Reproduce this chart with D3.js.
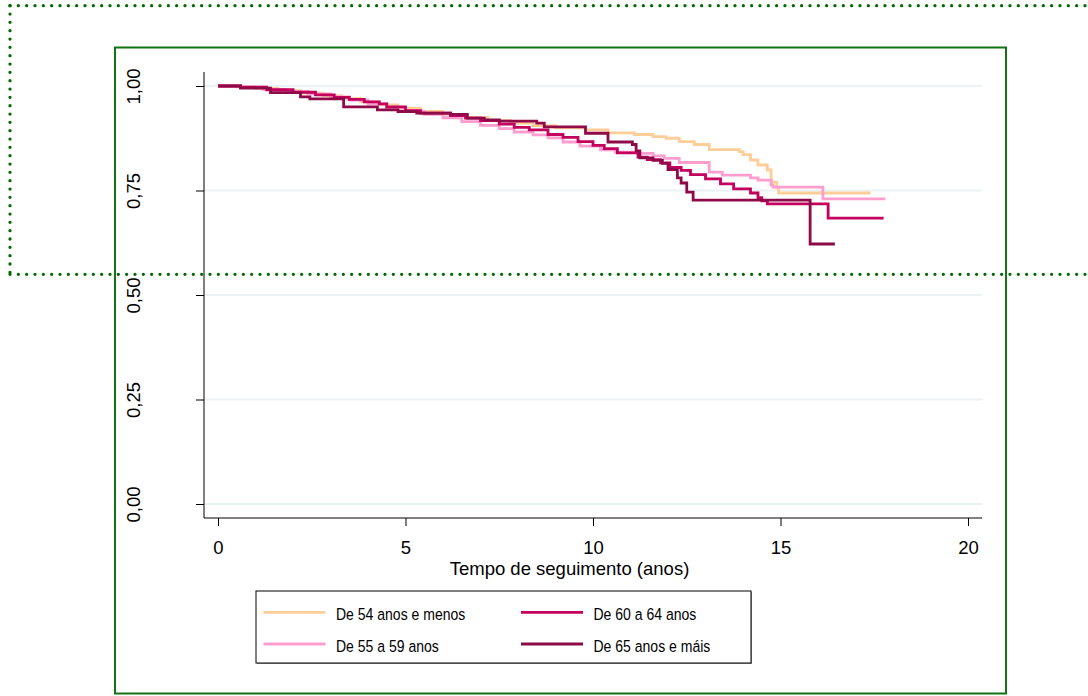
<!DOCTYPE html>
<html>
<head>
<meta charset="utf-8">
<script src="https://cdn.jsdelivr.net/npm/d3@7"></script>
<style>
  html, body { margin: 0; padding: 0; background: #fff; }
  svg { display: block; }
  text { font-family: "Liberation Sans", Arial, sans-serif; fill: #000; }
</style>
</head>
<body>
<svg id="chart" width="1088" height="696"></svg>
<script>
// Kaplan-Meier survival estimates by age group: [years of follow-up, survival]
const kmAte54 = [[0,1.000],[0.5,0.998],[1.0,0.994],[1.6,0.989],[2.2,0.983],[2.8,0.977],[3.3,0.970],[3.8,0.962],[4.3,0.955],[4.8,0.947],[5.4,0.939],[6.0,0.932],[6.6,0.925],[7.2,0.918],[7.8,0.911],[8.4,0.905],[9.0,0.900],[9.8,0.895],[10.4,0.888],[11.1,0.884],[11.6,0.879],[11.95,0.875],[12.3,0.867],[12.7,0.860],[13.1,0.848],[13.9,0.843],[14.0,0.836],[14.2,0.823],[14.4,0.811],[14.65,0.799],[14.75,0.770],[14.9,0.758],[14.95,0.744],[17.4,0.744]];
const kmDe55a59 = [[0,1.000],[0.6,0.997],[1.2,0.992],[1.8,0.987],[2.4,0.981],[3.0,0.974],[3.5,0.966],[4.0,0.957],[4.5,0.947],[5.0,0.940],[5.5,0.932],[6.0,0.924],[6.5,0.915],[7.0,0.906],[7.5,0.898],[7.9,0.890],[8.4,0.883],[8.8,0.876],[9.2,0.866],[9.65,0.856],[10.2,0.847],[10.6,0.842],[11.2,0.839],[11.6,0.833],[11.9,0.827],[12.3,0.817],[13.1,0.794],[13.45,0.787],[14.2,0.780],[14.4,0.775],[14.75,0.763],[14.8,0.758],[16.13,0.730],[17.8,0.730]];
const kmDe60a64 = [[0,1.000],[0.6,0.997],[1.3,0.991],[2.0,0.985],[2.6,0.979],[3.1,0.973],[3.5,0.968],[3.9,0.962],[4.3,0.957],[4.5,0.950],[5.0,0.941],[5.4,0.935],[6.2,0.929],[6.6,0.923],[7.0,0.917],[7.5,0.909],[7.9,0.901],[8.3,0.895],[8.8,0.884],[9.2,0.877],[9.6,0.867],[10.0,0.858],[10.3,0.850],[10.65,0.840],[11.2,0.830],[11.45,0.824],[11.8,0.816],[12.05,0.805],[12.35,0.798],[12.6,0.788],[13.0,0.778],[13.4,0.766],[13.75,0.754],[14.2,0.744],[14.4,0.733],[14.5,0.725],[14.65,0.718],[16.27,0.684],[17.75,0.684]];
const kmDe65 = [[0,1.000],[0.6,0.995],[1.4,0.984],[2.2,0.974],[2.45,0.969],[3.35,0.950],[4.25,0.943],[4.8,0.939],[5.3,0.935],[6.2,0.932],[6.65,0.923],[7.1,0.919],[7.5,0.916],[8.5,0.911],[8.7,0.902],[9.8,0.887],[10.4,0.866],[11.05,0.860],[11.15,0.845],[11.25,0.828],[11.6,0.822],[11.85,0.815],[12.0,0.800],[12.25,0.780],[12.35,0.768],[12.5,0.746],[12.67,0.727],[15.79,0.622],[16.45,0.622]];

const groupLabels = ["De 54 anos e menos", "De 55 a 59 anos", "De 60 a 64 anos", "De 65 anos e máis"];
const groupColors = ["#fecd98", "#ff9dcf", "#c4005e", "#8e0a48"];
const xTicks = [0, 5, 10, 15, 20];
const yTicks = [0, 0.25, 0.5, 0.75, 1];
const yTickLabels = ["0,00", "0,25", "0,50", "0,75", "1,00"];
const xTitle = "Tempo de seguimento (anos)";

const series = [kmAte54, kmDe55a59, kmDe60a64, kmDe65];

const svg = d3.select("#chart");

// outer graph frame
svg.append("rect")
  .attr("x", 115).attr("y", 47.5).attr("width", 891).attr("height", 646)
  .attr("fill", "none").attr("stroke", "#137313").attr("stroke-width", 2);

// plot region
const plot = { left: 204, right: 982, top: 72, bottom: 518 };
const x = d3.scaleLinear().domain([0, 20]).range([218, 968]);
const y = d3.scaleLinear().domain([0, 1]).range([504, 86]);

// horizontal gridlines
svg.append("g").selectAll("line").data(yTicks).join("line")
  .attr("x1", plot.left).attr("x2", plot.right)
  .attr("y1", d => y(d)).attr("y2", d => y(d))
  .attr("stroke", "#eaf2f3").attr("stroke-width", 2);

// y axis
const yAxis = svg.append("g")
  .attr("transform", `translate(${plot.left},0)`)
  .call(d3.axisLeft(y).tickValues(yTicks).tickSize(8).tickFormat((d, i) => yTickLabels[i]));
yAxis.select(".domain").remove();
yAxis.selectAll(".tick line").attr("stroke", "#000");
yAxis.selectAll(".tick text")
  .attr("font-family", "Liberation Sans, Arial, sans-serif")
  .attr("font-size", 18.5)
  .attr("text-anchor", "middle")
  .attr("dominant-baseline", "central")
  .attr("x", null).attr("dy", null)
  .attr("transform", `translate(${133.5 - plot.left},0) rotate(-90)`);
svg.append("line")
  .attr("x1", plot.left).attr("x2", plot.left)
  .attr("y1", plot.top).attr("y2", plot.bottom)
  .attr("stroke", "#000").attr("stroke-width", 1);

// x axis
const xAxis = svg.append("g")
  .attr("transform", `translate(0,${plot.bottom})`)
  .call(d3.axisBottom(x).tickValues(xTicks).tickSize(8).tickFormat(d3.format("d")));
xAxis.select(".domain").remove();
xAxis.selectAll(".tick line").attr("stroke", "#000");
xAxis.selectAll(".tick text")
  .attr("font-family", "Liberation Sans, Arial, sans-serif")
  .attr("font-size", 18.5)
  .attr("y", 36).attr("dy", null);
svg.append("line")
  .attr("x1", plot.left).attr("x2", plot.right)
  .attr("y1", plot.bottom).attr("y2", plot.bottom)
  .attr("stroke", "#000").attr("stroke-width", 1);

svg.append("text")
  .attr("x", 569.5).attr("y", 575)
  .attr("text-anchor", "middle")
  .attr("font-size", 18.5)
  .text(xTitle);

// survival step curves
const line = d3.line()
  .x(d => x(d[0]))
  .y(d => y(d[1]))
  .curve(d3.curveStepAfter);

svg.append("g").selectAll("path").data(series).join("path")
  .attr("d", line)
  .attr("fill", "none")
  .attr("stroke", (d, i) => groupColors[i])
  .attr("stroke-width", 2.8)
  .attr("stroke-linejoin", "miter");

// legend
const legend = svg.append("g");
legend.append("rect")
  .attr("x", 257).attr("y", 592).attr("width", 495).attr("height", 72)
  .attr("fill", "#9a9a9a");
legend.append("rect")
  .attr("x", 256).attr("y", 591).attr("width", 495).attr("height", 72)
  .attr("fill", "#fff").attr("stroke", "#000").attr("stroke-width", 1);

const colX = [263.5, 521];
const rowY = [612.3, 644];
const items = legend.selectAll("g.item").data(groupLabels).join("g")
  .attr("class", "item")
  .attr("transform", (d, i) => `translate(${colX[Math.floor(i / 2)]},${rowY[i % 2]})`);
items.append("line")
  .attr("x1", 0).attr("x2", 62)
  .attr("stroke", (d, i) => groupColors[i])
  .attr("stroke-width", 2.8);
// legend labels use a condensed rendering of the sans face
items.append("text")
  .attr("transform", "translate(72.5,7.8) scale(0.85,1)")
  .attr("font-family", "Liberation Sans, Arial, sans-serif")
  .attr("font-size", 16.5)
  .text(d => d);

// dotted outline
const dotted = svg.append("g")
  .attr("fill", "none")
  .attr("stroke", "#006a00")
  .attr("stroke-width", 3.3)
  .attr("stroke-linecap", "round")
  .attr("stroke-dasharray", "0 8.333");
dotted.append("path").attr("d", "M10,5.7H1092");
dotted.append("path").attr("d", "M10,5.7V274.3");
dotted.append("path").attr("d", "M10,274.3H1092");
</script>
</body>
</html>
